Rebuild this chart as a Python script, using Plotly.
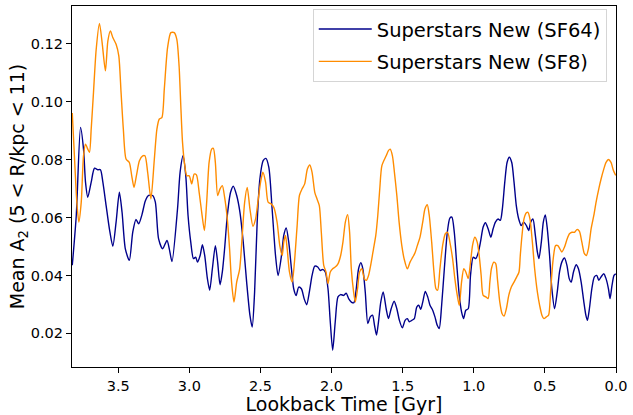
import plotly.graph_objects as go

# Lookback time [Gyr] and mean A2 for each run
t_sf64 = [3.823, 3.795, 3.765, 3.744, 3.730, 3.714, 3.690, 3.667, 3.643, 3.625, 3.608, 3.585, 3.562, 3.538,
          3.515, 3.492, 3.473, 3.450, 3.422, 3.398, 3.375, 3.356, 3.333, 3.309, 3.286, 3.258, 3.239, 3.216,
          3.188, 3.157, 3.141, 3.122, 3.083, 3.065, 3.044, 3.025, 3.009, 2.990, 2.971, 2.955, 2.943, 2.924,
          2.908, 2.892, 2.873, 2.857, 2.838, 2.817, 2.801, 2.784, 2.768, 2.752, 2.733, 2.710, 2.691, 2.667,
          2.644, 2.621, 2.597, 2.574, 2.558, 2.541, 2.523, 2.504, 2.481, 2.462, 2.441, 2.418, 2.394, 2.376,
          2.352, 2.336, 2.319, 2.301, 2.282, 2.266, 2.249, 2.231, 2.212, 2.193, 2.175, 2.156, 2.137, 2.118,
          2.097, 2.079, 2.062, 2.044, 2.025, 2.009, 1.992, 1.974, 1.955, 1.936, 1.915, 1.897, 1.880, 1.861,
          1.843, 1.829, 1.810, 1.794, 1.780, 1.763, 1.745, 1.728, 1.712, 1.698, 1.684, 1.670, 1.654, 1.637,
          1.616, 1.600, 1.581, 1.560, 1.541, 1.523, 1.502, 1.483, 1.467, 1.453, 1.436, 1.418, 1.401, 1.387,
          1.373, 1.359, 1.341, 1.324, 1.308, 1.289, 1.273, 1.257, 1.243, 1.226, 1.207, 1.186, 1.168, 1.154,
          1.137, 1.121, 1.102, 1.086, 1.072, 1.056, 1.039, 1.023, 1.004, 0.986, 0.969, 0.953, 0.934, 0.918,
          0.899, 0.880, 0.864, 0.848, 0.829, 0.813, 0.799, 0.782, 0.766, 0.750, 0.733, 0.717, 0.701, 0.684,
          0.666, 0.649, 0.630, 0.614, 0.600, 0.584, 0.567, 0.553, 0.542, 0.525, 0.511, 0.497, 0.483, 0.467,
          0.451, 0.432, 0.413, 0.397, 0.381, 0.362, 0.345, 0.329, 0.315, 0.299, 0.280, 0.264, 0.245, 0.226,
          0.212, 0.201, 0.187, 0.170, 0.152, 0.135, 0.121, 0.105, 0.086, 0.070, 0.053, 0.042, 0.028, 0.014,
          0.002]
a2_sf64 = [0.0435, 0.0607, 0.0911, 0.0836, 0.0722, 0.0670, 0.0722, 0.0770, 0.0765, 0.0765, 0.0722, 0.0641,
           0.0561, 0.0501, 0.0584, 0.0687, 0.0618, 0.0492, 0.0452, 0.0549, 0.0593, 0.0578, 0.0610, 0.0658,
           0.0676, 0.0676, 0.0653, 0.0526, 0.0492, 0.0521, 0.0492, 0.0448, 0.0630, 0.0756, 0.0813, 0.0744,
           0.0607, 0.0515, 0.0458, 0.0463, 0.0446, 0.0469, 0.0506, 0.0469, 0.0389, 0.0349, 0.0423, 0.0503,
           0.0446, 0.0368, 0.0412, 0.0492, 0.0607, 0.0687, 0.0708, 0.0676, 0.0618, 0.0515, 0.0377, 0.0263,
           0.0222, 0.0343, 0.0584, 0.0733, 0.0796, 0.0804, 0.0773, 0.0630, 0.0469, 0.0400, 0.0469, 0.0538,
           0.0564, 0.0515, 0.0423, 0.0354, 0.0331, 0.0360, 0.0354, 0.0320, 0.0299, 0.0343, 0.0400, 0.0432,
           0.0429, 0.0417, 0.0421, 0.0412, 0.0354, 0.0240, 0.0142, 0.0240, 0.0326, 0.0334, 0.0331, 0.0339,
           0.0320, 0.0308, 0.0306, 0.0343, 0.0423, 0.0444, 0.0423, 0.0343, 0.0234, 0.0257, 0.0263, 0.0228,
           0.0194, 0.0240, 0.0308, 0.0343, 0.0285, 0.0251, 0.0285, 0.0311, 0.0285, 0.0245, 0.0219, 0.0245,
           0.0251, 0.0240, 0.0245, 0.0251, 0.0291, 0.0297, 0.0283, 0.0308, 0.0345, 0.0326, 0.0297, 0.0280,
           0.0257, 0.0228, 0.0217, 0.0297, 0.0423, 0.0549, 0.0598, 0.0601, 0.0549, 0.0446, 0.0331, 0.0274,
           0.0251, 0.0280, 0.0285, 0.0400, 0.0463, 0.0458, 0.0478, 0.0515, 0.0567, 0.0582, 0.0561, 0.0532,
           0.0561, 0.0584, 0.0595, 0.0590, 0.0630, 0.0722, 0.0790, 0.0808, 0.0790, 0.0722, 0.0641, 0.0595,
           0.0572, 0.0584, 0.0572, 0.0555, 0.0584, 0.0595, 0.0538, 0.0481, 0.0458, 0.0515, 0.0584, 0.0609,
           0.0561, 0.0469, 0.0354, 0.0285, 0.0343, 0.0412, 0.0446, 0.0460, 0.0435, 0.0389, 0.0377, 0.0412,
           0.0437, 0.0423, 0.0377, 0.0308, 0.0263, 0.0245, 0.0285, 0.0354, 0.0395, 0.0400, 0.0383, 0.0395,
           0.0406, 0.0389, 0.0354, 0.0320, 0.0366, 0.0400, 0.0406]

t_sf8 = [3.823, 3.807, 3.791, 3.777, 3.760, 3.744, 3.730, 3.714, 3.702, 3.690, 3.674, 3.655, 3.632, 3.613,
         3.590, 3.573, 3.555, 3.538, 3.515, 3.496, 3.480, 3.464, 3.445, 3.422, 3.405, 3.389, 3.370, 3.351,
         3.328, 3.312, 3.293, 3.270, 3.246, 3.228, 3.211, 3.193, 3.176, 3.153, 3.130, 3.106, 3.088, 3.072,
         3.060, 3.048, 3.032, 3.018, 3.001, 2.983, 2.966, 2.950, 2.931, 2.913, 2.894, 2.878, 2.861, 2.843,
         2.831, 2.817, 2.801, 2.784, 2.768, 2.752, 2.733, 2.717, 2.703, 2.686, 2.667, 2.646, 2.628, 2.611,
         2.593, 2.574, 2.553, 2.534, 2.518, 2.499, 2.483, 2.464, 2.446, 2.425, 2.406, 2.383, 2.364, 2.347,
         2.336, 2.324, 2.312, 2.296, 2.277, 2.261, 2.242, 2.226, 2.207, 2.189, 2.170, 2.153, 2.137, 2.118,
         2.102, 2.086, 2.072, 2.055, 2.039, 2.025, 2.009, 1.992, 1.974, 1.955, 1.936, 1.920, 1.903, 1.887,
         1.873, 1.861, 1.845, 1.833, 1.817, 1.803, 1.787, 1.770, 1.756, 1.740, 1.721, 1.705, 1.689, 1.675,
         1.661, 1.646, 1.616, 1.600, 1.588, 1.572, 1.558, 1.541, 1.525, 1.506, 1.490, 1.467, 1.448, 1.429,
         1.413, 1.397, 1.378, 1.359, 1.343, 1.327, 1.313, 1.296, 1.280, 1.266, 1.254, 1.238, 1.219, 1.200,
         1.184, 1.168, 1.149, 1.133, 1.116, 1.102, 1.086, 1.070, 1.056, 1.039, 1.023, 1.009, 0.993, 0.976,
         0.962, 0.948, 0.934, 0.915, 0.899, 0.887, 0.876, 0.859, 0.845, 0.834, 0.817, 0.801, 0.787, 0.771,
         0.754, 0.736, 0.717, 0.698, 0.682, 0.673, 0.661, 0.647, 0.630, 0.619, 0.605, 0.588, 0.572, 0.553,
         0.537, 0.521, 0.507, 0.490, 0.474, 0.460, 0.444, 0.425, 0.409, 0.395, 0.381, 0.362, 0.343, 0.327,
         0.310, 0.292, 0.273, 0.257, 0.240, 0.222, 0.208, 0.194, 0.175, 0.156, 0.140, 0.121, 0.105, 0.086,
         0.070, 0.053, 0.035, 0.018, 0.002]
a2_sf8 = [0.0961, 0.0802, 0.0653, 0.0584, 0.0653, 0.0813, 0.0853, 0.0836, 0.0825, 0.0905, 0.1031, 0.1180,
          0.1270, 0.1203, 0.1106, 0.1209, 0.1244, 0.1221, 0.1198, 0.1158, 0.1031, 0.0905, 0.0802, 0.0790,
          0.0744, 0.0704, 0.0750, 0.0796, 0.0813, 0.0813, 0.0756, 0.0664, 0.0802, 0.0905, 0.0940, 0.0945,
          0.1043, 0.1186, 0.1238, 0.1238, 0.1215, 0.1123, 0.0986, 0.0860, 0.0779, 0.0744, 0.0744, 0.0716,
          0.0750, 0.0747, 0.0687, 0.0618, 0.0555, 0.0653, 0.0790, 0.0836, 0.0839, 0.0790, 0.0676, 0.0699,
          0.0710, 0.0670, 0.0595, 0.0492, 0.0377, 0.0308, 0.0377, 0.0423, 0.0538, 0.0653, 0.0704, 0.0630,
          0.0570, 0.0595, 0.0653, 0.0722, 0.0756, 0.0722, 0.0653, 0.0647, 0.0635, 0.0584, 0.0503, 0.0469,
          0.0515, 0.0538, 0.0492, 0.0412, 0.0377, 0.0446, 0.0572, 0.0676, 0.0699, 0.0716, 0.0767, 0.0781,
          0.0756, 0.0687, 0.0664, 0.0641, 0.0549, 0.0435, 0.0412, 0.0372, 0.0412, 0.0423, 0.0429, 0.0440,
          0.0469, 0.0515, 0.0584, 0.0610, 0.0549, 0.0423, 0.0343, 0.0308, 0.0354, 0.0412, 0.0423, 0.0389,
          0.0383, 0.0400, 0.0446, 0.0492, 0.0538, 0.0607, 0.0699, 0.0779, 0.0813, 0.0831, 0.0836, 0.0813,
          0.0756, 0.0676, 0.0584, 0.0503, 0.0458, 0.0423, 0.0446, 0.0463, 0.0478, 0.0503, 0.0532, 0.0584,
          0.0630, 0.0644, 0.0607, 0.0515, 0.0412, 0.0354, 0.0349, 0.0423, 0.0503, 0.0544, 0.0549, 0.0515,
          0.0458, 0.0389, 0.0331, 0.0297, 0.0377, 0.0423, 0.0412, 0.0389, 0.0446, 0.0503, 0.0532, 0.0515,
          0.0469, 0.0400, 0.0331, 0.0326, 0.0320, 0.0377, 0.0423, 0.0446, 0.0440, 0.0389, 0.0308, 0.0268,
          0.0260, 0.0285, 0.0331, 0.0360, 0.0377, 0.0395, 0.0412, 0.0469, 0.0538, 0.0595, 0.0616, 0.0618,
          0.0595, 0.0515, 0.0423, 0.0343, 0.0297, 0.0263, 0.0251, 0.0257, 0.0263, 0.0343, 0.0446, 0.0503,
          0.0503, 0.0492, 0.0481, 0.0498, 0.0527, 0.0544, 0.0549, 0.0549, 0.0559, 0.0552, 0.0515, 0.0475,
          0.0469, 0.0492, 0.0561, 0.0607, 0.0653, 0.0699, 0.0733, 0.0767, 0.0790, 0.0800, 0.0790, 0.0762,
          0.0745]

x_ticks = [3.5, 3.0, 2.5, 2.0, 1.5, 1.0, 0.5, 0.0]
y_ticks = [0.02, 0.04, 0.06, 0.08, 0.10, 0.12]

FONT = "DejaVu Sans"

fig = go.Figure()
fig.add_trace(go.Scatter(x=t_sf64, y=a2_sf64, mode="lines", name="Superstars New (SF64)",
                         legendgroup="a",
                         line=dict(color="#00008B", width=1.4, shape="spline", smoothing=0.7)))
fig.add_trace(go.Scatter(x=t_sf8, y=a2_sf8, mode="lines", name="Superstars New (SF8)",
                         legendgroup="b",
                         line=dict(color="#FF8C00", width=1.4, shape="spline", smoothing=0.7)))

axis_common = dict(showline=True, linecolor="black", linewidth=1.2, mirror=True, ticks="outside",
                   ticklen=5, tickwidth=1, tickcolor="black", showgrid=False, zeroline=False,
                   tickfont=dict(family=FONT, size=14.5, color="black"))

fig.update_layout(
    width=633, height=415,
    margin=dict(l=72, r=15, t=5, b=48),
    paper_bgcolor="white", plot_bgcolor="white",
    font=dict(family=FONT, color="black"),
    xaxis=dict(range=[3.825, 0.0], tickvals=x_ticks, tickformat=".1f",
               title=dict(text="Lookback Time [Gyr]", font=dict(family=FONT, size=19), standoff=2),
               **axis_common),
    yaxis=dict(range=[0.0084, 0.133], tickvals=y_ticks, tickformat=".2f",
               title=dict(text="Mean A<sub>2</sub> (5 &lt; R/kpc &lt; 11)", font=dict(family=FONT, size=19),
                          standoff=0),
               **axis_common),
    legend=dict(x=0.983, y=0.992, xanchor="right", yanchor="top", bgcolor="rgba(255,255,255,0.8)",
                bordercolor="#d5d5d5", borderwidth=1, font=dict(family=FONT, size=19.5, color="black"),
                traceorder="grouped", tracegroupgap=4, itemwidth=53),
    showlegend=True,
)

fig.write_html("out.html")
